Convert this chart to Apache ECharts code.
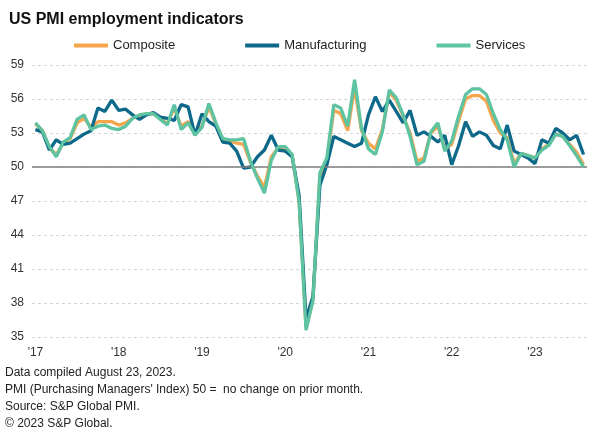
<!DOCTYPE html>
<html>
<head>
<meta charset="utf-8">
<title>US PMI employment indicators</title>
<script src="https://cdn.jsdelivr.net/npm/echarts@6/dist/echarts.min.js"></script>
<style>
  html, body { margin: 0; padding: 0; background: #fff; }
  #main { width: 599px; height: 436px; }
</style>
</head>
<body>
<div id="main"></div>
<script>
'use strict';

// months Jan 2017 .. Aug 2023
var years = ['17', '18', '19', '20', '21', '22', '23'];
var months = [];
for (var y = 0; y < years.length; y++) {
    for (var m = 1; m <= 12; m++) {
        if (years[y] === '23' && m > 8) break;
        months.push("'" + years[y] + '-' + m);
    }
}

var composite = [
    53.8, 53.2, 51.7, 51.1, 52.1, 52.5, 53.9, 54.3, 53.5, 54.0, 54.0, 54.0,
    53.7, 53.9, 54.3, 54.5, 54.7, 54.7, 54.3, 53.8, 55.2, 53.6, 54.0, 52.9,
    53.6, 55.3, 53.8, 52.4, 52.3, 52.1, 52.0, 50.4, 49.2, 48.2, 50.9, 51.7,
    51.7, 51.0, 47.0, 35.8, 38.3, 49.2, 50.6, 55.0, 54.7, 53.2, 57.0, 53.2,
    52.1, 51.6, 53.3, 56.6, 55.9, 54.5, 53.0, 50.5, 50.8, 53.0, 53.6, 51.6,
    52.0, 54.1, 56.0, 56.3, 56.3, 55.8, 54.1, 53.0, 52.6, 50.3, 51.2, 51.0,
    50.8, 51.6, 52.0, 52.9, 52.7, 52.0, 51.3, 50.2
];
var manufacturing = [
    53.3, 53.1, 51.5, 52.4, 52.0, 52.1, 52.5, 52.9, 53.2, 55.2, 54.9, 55.9,
    55.0, 55.1, 54.6, 54.2, 54.6, 54.8, 54.4, 54.3, 54.1, 55.5, 55.3, 52.8,
    54.7, 54.0, 53.6, 52.2, 52.1, 51.4, 49.9, 50.0, 50.9, 51.5, 52.8, 51.5,
    51.4, 50.9, 47.5, 36.6, 38.6, 48.4, 50.2, 52.7, 52.4, 52.1, 51.8, 52.1,
    54.6, 56.2, 54.9, 55.9, 54.9, 53.9, 55.0, 52.8, 53.1, 52.7, 52.2, 52.8,
    50.2, 51.9, 54.0, 52.7, 53.1, 52.8, 51.9, 51.6, 53.7, 51.4, 51.1, 50.8,
    50.3, 52.4, 52.1, 53.4, 53.0, 52.4, 52.8, 51.1
];
var services = [
    53.9, 53.2, 51.8, 50.9, 52.2, 52.6, 54.2, 54.6, 53.3, 53.6, 53.7, 53.4,
    53.3, 53.6, 54.3, 54.6, 54.7, 54.7, 54.2, 53.7, 55.5, 53.3, 53.9, 52.8,
    53.5, 55.6, 53.9, 52.5, 52.4, 52.4, 52.5, 50.5, 49.0, 47.7, 50.6, 51.8,
    51.8, 51.1, 46.9, 35.6, 38.2, 49.5, 50.8, 55.5, 55.2, 53.6, 57.7, 53.4,
    51.6, 51.1, 53.1, 56.8, 56.1, 54.6, 52.7, 50.2, 50.5, 53.1, 53.9, 51.4,
    52.3, 54.5, 56.4, 56.9, 56.9, 56.4, 54.7, 53.3, 52.4, 50.0, 51.2, 51.0,
    50.8, 51.5, 51.9, 52.9, 52.7, 51.9, 51.0, 50.0
];

var notes = [
    'Data compiled August 23, 2023.',
    "PMI (Purchasing Managers' Index) 50 =  no change on prior month.",
    'Source: S&P Global PMI.',
    '\u00a9 2023 S&P Global.'
];

var FONT = '"Liberation Sans", Arial, sans-serif';
var colors = { comp: '#F5A64C', manu: '#0D6889', serv: '#5DC3A1' };

var chart = echarts.init(document.getElementById('main'));

var noteEls = notes.map(function(t, i) {
    return {
        type: 'text', left: 5, top: 367 + i * 16.8,
        style: { text: t, font: '12px ' + FONT, fill: '#222' }
    };
});

function lineSeries(name, data, color, z) {
    return {
        name: name, type: 'line', data: data,
        showSymbol: false, symbol: 'none', z: z,
        lineStyle: { color: color, width: 3.3 },
        itemStyle: { color: color },
        emphasis: { disabled: true }
    };
}

var seriesList = [
    lineSeries('Composite', composite, colors.comp, 3),
    lineSeries('Manufacturing', manufacturing, colors.manu, 4),
    lineSeries('Services', services, colors.serv, 5)
];
// the 50 = no change line
seriesList[0].markLine = {
    silent: true, symbol: 'none', label: { show: false },
    lineStyle: { color: '#7f7f7f', width: 1.5, type: 'solid' },
    data: [{ yAxis: 50 }]
};

chart.setOption({
    animation: false,
    textStyle: { fontFamily: FONT },
    title: {
        text: 'US PMI employment indicators',
        left: 4, top: 7,
        textStyle: { fontSize: 16, fontWeight: 'bold', color: '#111', fontFamily: FONT }
    },
    legend: {
        left: 69, top: 34,
        itemWidth: 34, itemHeight: 4, itemGap: 70,
        icon: 'rect',
        textStyle: { fontSize: 13, color: '#222', fontFamily: FONT },
        data: ['Composite', 'Manufacturing', 'Services']
    },
    grid: { left: 32, right: 12, top: 65, bottom: 99, containLabel: false },
    xAxis: {
        type: 'category',
        data: months,
        boundaryGap: true,
        axisLine: { show: false },
        axisTick: { show: false },
        splitLine: { show: false },
        axisLabel: {
            interval: 0, margin: 10, fontSize: 12, color: '#333',
            formatter: function(v, i) { return i % 12 === 0 ? v.split('-')[0] : ''; }
        }
    },
    yAxis: {
        type: 'value',
        min: 35, max: 59, interval: 3,
        axisLine: { show: false },
        axisTick: { show: false },
        axisLabel: { fontSize: 12, color: '#333', margin: 8 },
        splitLine: { lineStyle: { color: '#d6d6d6', type: [3, 3], width: 1 } }
    },
    graphic: noteEls,
    series: seriesList
});
</script>
</body>
</html>
